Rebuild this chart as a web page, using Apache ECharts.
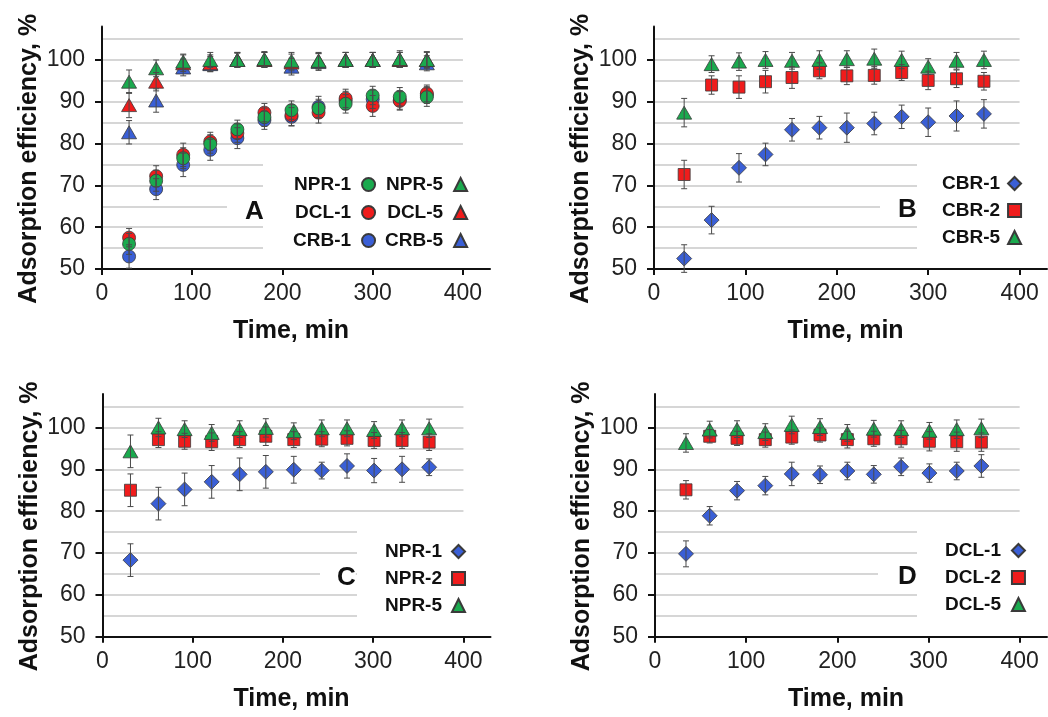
<!DOCTYPE html>
<html><head><meta charset="utf-8">
<script src="https://cdn.jsdelivr.net/npm/echarts@6/dist/echarts.min.js"></script>
<style>html,body{margin:0;padding:0;background:#fff}#c{width:1048px;height:717px}</style>
</head><body><div id="c"></div>
<script>
// ---------- data ----------
const xTicks = [0, 100, 200, 300, 400];
const yTicks = [50, 60, 70, 80, 90, 100];

// Panel A
const A_time = [30, 60, 90, 120, 150, 180, 210, 240, 270, 300, 330, 360];
const A_NPR1 = [56.0, 71.1, 76.5, 79.9, 83.4, 86.3, 88.0, 88.4, 89.5, 91.5, 91.2, 91.1];
const A_DCL1 = [57.5, 72.2, 77.3, 80.5, 82.5, 87.4, 86.8, 87.4, 90.8, 89.0, 90.2, 92.0];
const A_CRB1 = [53.0, 69.1, 74.9, 78.5, 81.3, 85.6, 86.4, 88.8, 90.3, 90.6, 90.4, 91.6];
const A_NPR5 = [94.8, 98.0, 99.6, 100.0, 100.0, 100.2, 99.8, 99.8, 100.0, 100.0, 100.2, 100.0];
const A_DCL5 = [89.2, 94.8, 99.2, 99.2, 100.0, 100.0, 99.4, 99.8, 100.0, 100.0, 100.0, 100.0];
const A_CRB5 = [82.7, 90.3, 98.2, 99.0, 100.0, 100.0, 98.4, 99.5, 100.0, 100.0, 100.0, 99.2];
const A_NPR1_err = [2.5, 2.5, 2.5, 2.2, 2.2, 2.2, 2.2, 2.2, 2.2, 2.2, 2.2, 2.2];
const A_DCL1_err = [2.2, 2.5, 2.8, 2.2, 2.2, 2.2, 2.5, 2.5, 2.2, 2.5, 2.2, 2.0];
const A_CRB1_err = [2.8, 2.5, 2.8, 2.5, 2.5, 2.2, 2.2, 2.5, 2.2, 2.2, 2.2, 2.0];
const A_NPR5_err = [2.8, 2.0, 1.8, 1.8, 1.6, 1.8, 2.0, 1.8, 1.8, 1.8, 2.0, 2.0];
const A_DCL5_err = [3.0, 2.2, 2.0, 2.0, 1.8, 1.8, 2.0, 2.0, 1.8, 1.8, 1.8, 1.8];
const A_CRB5_err = [2.8, 2.8, 2.0, 1.8, 1.8, 1.8, 2.0, 2.0, 1.8, 1.8, 1.8, 1.8];

// Panel B
const B_time = [33, 63, 93, 122, 151, 181, 211, 241, 271, 300, 331, 361];
const B_CBR1 = [52.5, 61.7, 74.2, 77.4, 83.3, 83.8, 83.8, 84.8, 86.4, 85.1, 86.6, 87.1];
const B_CBR2 = [72.6, 94.0, 93.5, 94.8, 95.8, 97.4, 96.2, 96.3, 97.0, 95.1, 95.5, 94.9];
const B_CBR5 = [87.4, 99.0, 99.6, 100.0, 99.8, 100.0, 100.2, 100.3, 100.0, 98.4, 99.8, 100.0];
const B_CBR1_err = [3.3, 3.3, 3.4, 2.7, 2.7, 2.7, 3.5, 2.7, 2.8, 3.4, 3.6, 3.4];
const B_CBR2_err = [3.4, 2.2, 2.7, 2.7, 2.6, 1.9, 2.1, 2.1, 1.9, 2.2, 2.1, 2.1];
const B_CBR5_err = [3.4, 2.0, 2.1, 2.0, 2.0, 2.2, 2.0, 2.3, 2.1, 1.9, 2.0, 2.1];

// Panel C
const C_time = [31, 62, 91, 121, 152, 181, 212, 243, 271, 301, 332, 362];
const C_NPR1 = [68.3, 81.8, 85.2, 87.0, 88.8, 89.4, 89.9, 89.7, 90.8, 89.7, 90.0, 90.5];
const C_NPR2 = [85.0, 97.1, 96.7, 96.6, 97.1, 97.9, 97.1, 97.2, 97.4, 96.9, 96.9, 96.5];
const C_NPR5 = [94.3, 100.0, 99.6, 98.7, 99.6, 99.9, 99.1, 99.8, 99.8, 99.4, 99.8, 99.8];
const C_NPR1_err = [3.9, 3.9, 3.9, 3.9, 3.9, 3.9, 3.2, 2.0, 2.9, 2.9, 3.1, 2.0];
const C_NPR2_err = [3.9, 1.9, 1.9, 2.1, 1.9, 2.2, 1.9, 1.8, 1.8, 1.9, 1.9, 2.0];
const C_NPR5_err = [3.9, 2.2, 2.0, 2.0, 2.0, 2.2, 2.0, 2.0, 2.0, 2.0, 2.0, 2.2];

// Panel D
const D_time = [34, 60, 90, 121, 150, 181, 211, 240, 270, 301, 331, 358];
const D_DCL1 = [69.8, 78.9, 84.9, 86.1, 88.9, 88.7, 89.6, 88.8, 90.6, 89.1, 89.6, 90.8];
const D_DCL2 = [85.1, 97.9, 97.4, 97.1, 97.7, 98.2, 97.1, 97.3, 97.3, 96.7, 96.6, 96.5];
const D_DCL5 = [96.3, 99.5, 99.6, 98.9, 100.6, 100.1, 98.7, 99.7, 99.6, 99.2, 99.6, 99.8];
const D_DCL1_err = [3.1, 2.2, 2.2, 2.2, 2.8, 2.1, 2.1, 2.1, 2.1, 2.2, 2.1, 2.7];
const D_DCL2_err = [2.2, 1.6, 1.7, 1.8, 1.7, 1.7, 2.0, 1.8, 2.0, 2.3, 2.3, 2.2];
const D_DCL5_err = [2.2, 2.0, 2.0, 2.0, 2.1, 2.0, 2.0, 2.0, 2.0, 2.0, 2.2, 2.2];

// ---------- styling / layout ----------
const FONT = "'Liberation Sans', Arial, sans-serif";
const GREEN = '#1aaa4e', RED = '#f01c1c', BLUE = '#3a5fd6';
const XMAX = 430, YMIN = 50, YMAX = 108, GRID_TOP_VAL = 105, GRID_RIGHT_VAL = 400;

const layouts = [
  {left: 102, top: 26.5, width: 388, height: 242.5},
  {left: 654, top: 26.5, width: 393, height: 242.5},
  {left: 102.5, top: 394, width: 388, height: 242.7},
  {left: 655, top: 394, width: 392, height: 242.7}
];

const grid = [], xAxis = [], yAxis = [], series = [], legend = [], title = [];

layouts.forEach((L, p) => {
  // background gridline grid (stops at x=400, y=105)
  const gTop = L.top + L.height * (YMAX - GRID_TOP_VAL) / (YMAX - YMIN);
  grid.push({left: L.left, top: gTop, width: L.width * GRID_RIGHT_VAL / XMAX,
             height: L.height * (GRID_TOP_VAL - YMIN) / (YMAX - YMIN)});
  xAxis.push({gridIndex: 2 * p, type: 'value', min: 0, max: GRID_RIGHT_VAL, show: false});
  yAxis.push({gridIndex: 2 * p, type: 'value', min: YMIN, max: GRID_TOP_VAL, interval: 5,
              axisLine: {show: false}, axisTick: {show: false}, axisLabel: {show: false},
              splitLine: {show: true, lineStyle: {color: '#c8c8c8', width: 1.5}}});
  // main grid
  grid.push({left: L.left, top: L.top, width: L.width, height: L.height});
  xAxis.push({gridIndex: 2 * p + 1, type: 'value', min: 0, max: XMAX, interval: 100,
    name: 'Time, min', nameLocation: 'middle', nameGap: 50,
    nameTextStyle: {fontFamily: FONT, fontSize: 25, fontWeight: 'bold', color: '#111', padding: [0, 10, 0, 0]},
    axisLine: {lineStyle: {color: '#111', width: 2}},
    axisTick: {length: 6, lineStyle: {color: '#111', width: 2}, customValues: xTicks},
    axisLabel: {fontFamily: FONT, fontSize: 23, color: '#222', margin: 13, customValues: xTicks,
                formatter: v => (v > 400 ? '' : String(v))},
    splitLine: {show: false}});
  yAxis.push({gridIndex: 2 * p + 1, type: 'value', min: YMIN, max: YMAX, interval: 10,
    name: 'Adsorption efficiency, %', nameLocation: 'middle', nameGap: 60,
    nameTextStyle: {fontFamily: FONT, fontSize: 25, fontWeight: 'bold', color: '#111', padding: [0, 22, 0, 0]},
    axisLine: {lineStyle: {color: '#111', width: 2}},
    axisTick: {length: 7, lineStyle: {color: '#111', width: 2}, customValues: yTicks},
    axisLabel: {fontFamily: FONT, fontSize: 23, color: '#222', margin: 17, customValues: yTicks,
                formatter: v => (v % 10 === 0 && v <= 100 ? String(v) : '')},
    splitLine: {show: false}});
});

function renderErr(params, api) {
  const x = api.value(0), lo = api.value(1), hi = api.value(2);
  const a = api.coord([x, hi]), b = api.coord([x, lo]);
  const cw = 3, st = {stroke: '#4a4a4a', lineWidth: 1};
  return {type: 'group', children: [
    {type: 'line', shape: {x1: a[0], y1: a[1], x2: b[0], y2: b[1]}, style: st},
    {type: 'line', shape: {x1: a[0] - cw, y1: a[1], x2: a[0] + cw, y2: a[1]}, style: st},
    {type: 'line', shape: {x1: b[0] - cw, y1: b[1], x2: b[0] + cw, y2: b[1]}, style: st}
  ]};
}

function addSeries(p, name, xs, ys, es, symbol, size, color) {
  const ax = 2 * p + 1;
  series.push({type: 'scatter', name: name + '|' + p, xAxisIndex: ax, yAxisIndex: ax,
    data: xs.map((x, i) => [x, ys[i]]), symbol: symbol, symbolSize: size, z: 2,
    itemStyle: {color: color, borderColor: '#3a3a3a', borderWidth: 0.8, opacity: 1},
    emphasis: {disabled: true}, silent: true});
  series.push({type: 'custom', name: 'err-' + name + '-' + p, xAxisIndex: ax, yAxisIndex: ax,
    data: xs.map((x, i) => [x, ys[i] - es[i], ys[i] + es[i]]), renderItem: renderErr,
    encode: {x: 0, y: [1, 2]}, z: 3, silent: true});
}

// A
addSeries(0, 'CRB-1', A_time, A_CRB1, A_CRB1_err, 'circle', 13, BLUE);
addSeries(0, 'DCL-1', A_time, A_DCL1, A_DCL1_err, 'circle', 13, RED);
addSeries(0, 'NPR-1', A_time, A_NPR1, A_NPR1_err, 'circle', 13, GREEN);
addSeries(0, 'CRB-5', A_time, A_CRB5, A_CRB5_err, 'triangle', [15, 13], BLUE);
addSeries(0, 'DCL-5', A_time, A_DCL5, A_DCL5_err, 'triangle', [15, 13], RED);
addSeries(0, 'NPR-5', A_time, A_NPR5, A_NPR5_err, 'triangle', [15, 13], GREEN);
// B
addSeries(1, 'CBR-1', B_time, B_CBR1, B_CBR1_err, 'diamond', 15, BLUE);
addSeries(1, 'CBR-2', B_time, B_CBR2, B_CBR2_err, 'rect', 12, RED);
addSeries(1, 'CBR-5', B_time, B_CBR5, B_CBR5_err, 'triangle', [15, 13], GREEN);
// C
addSeries(2, 'NPR-1', C_time, C_NPR1, C_NPR1_err, 'diamond', 15, BLUE);
addSeries(2, 'NPR-2', C_time, C_NPR2, C_NPR2_err, 'rect', 12, RED);
addSeries(2, 'NPR-5', C_time, C_NPR5, C_NPR5_err, 'triangle', [15, 13], GREEN);
// D
addSeries(3, 'DCL-1', D_time, D_DCL1, D_DCL1_err, 'diamond', 15, BLUE);
addSeries(3, 'DCL-2', D_time, D_DCL2, D_DCL2_err, 'rect', 12, RED);
addSeries(3, 'DCL-5', D_time, D_DCL5, D_DCL5_err, 'triangle', [15, 13], GREEN);

function mkLegend(p, names, left, top, padding, gap, textPad, height) {
  const o = {orient: 'vertical', left: left, top: top, padding: padding, itemGap: gap,
    itemWidth: 13, itemHeight: 13, align: 'right', backgroundColor: '#fff',
    selectedMode: false, z: 4,
    data: names.map(n => n + '|' + p),
    formatter: n => n.split('|')[0],
    textStyle: {fontFamily: FONT, fontSize: 19, fontWeight: 'bold', color: '#111', padding: [0, textPad, 0, 0]}};
  if (height) o.height = height;
  legend.push(o);
}
mkLegend(0, ['NPR-1', 'DCL-1', 'CRB-1', 'NPR-5', 'DCL-5', 'CRB-5'], 263, 160, [15, 5, 15, 30], 9, 6, 92);
mkLegend(1, ['CBR-1', 'CBR-2', 'CBR-5'], 917, 160, [14, 10, 15, 25], 8, 3);
mkLegend(2, ['NPR-1', 'NPR-2', 'NPR-5'], 357, 526, [16, 10, 15, 28], 8, 5);
mkLegend(3, ['DCL-1', 'DCL-2', 'DCL-5'], 917, 526, [15, 10, 15, 28], 8, 6);

function mkTitle(t, left, top, padLeft) {
  title.push({text: t, left: left, top: top, padding: [1, 0, 0, padLeft], backgroundColor: '#fff', z: 5,
    textStyle: {fontFamily: FONT, fontSize: 26, fontWeight: 'bold', color: '#111'}});
}
mkTitle('A', 227, 198, 18);
mkTitle('B', 880, 196, 18);
mkTitle('C', 320, 564, 17);
mkTitle('D', 878, 563, 20);

const chart = echarts.init(document.getElementById('c'), null, {renderer: 'canvas'});
chart.setOption({animation: false, backgroundColor: '#fff', title, legend, grid, xAxis, yAxis, series});
</script>
</body></html>
